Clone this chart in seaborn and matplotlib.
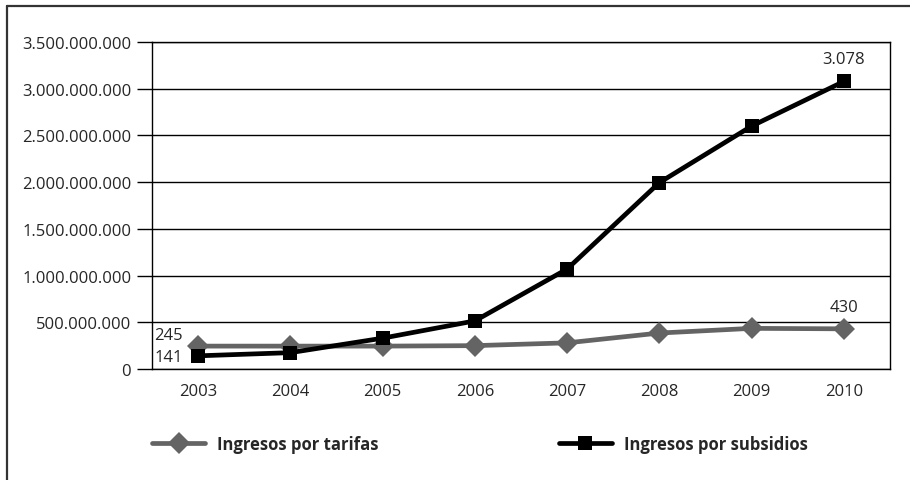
import seaborn as sns
import pandas as pd
import matplotlib.pyplot as plt
from matplotlib.lines import Line2D
from matplotlib.ticker import FuncFormatter, FixedLocator

anios = ['2003', '2004', '2005', '2006', '2007', '2008', '2009', '2010']
tarifas = [245e6, 245e6, 245e6, 250e6, 280e6, 385e6, 435e6, 430e6]
subsidios = [141e6, 175e6, 330e6, 515e6, 1070e6, 1995e6, 2600e6, 3078e6]
etiquetas = {'tarifas': ['245', '430'], 'subsidios': ['141', '3.078']}

sns.set_style('white')
plt.rcParams['font.family'] = ['Open Sans', 'DejaVu Sans']

df = pd.DataFrame({'anio': anios, 'tarifas': tarifas, 'subsidios': subsidios})

fig = plt.figure(figsize=(9.10, 4.81), dpi=100)
ax = fig.add_axes([152/910, 1-370/481, (890-152)/910, (370-43)/481])

sns.lineplot(data=df, x='anio', y='tarifas', ax=ax, color='#646464', lw=3.4,
             marker='D', markersize=11, markeredgewidth=0, label='Ingresos por tarifas')
sns.lineplot(data=df, x='anio', y='subsidios', ax=ax, color='black', lw=3.4,
             marker='s', markersize=10.5, markeredgewidth=0, label='Ingresos por subsidios')

fs = 12
ax.set_xlim(-0.5, len(anios) - 0.5)
ax.set_ylim(0, 3.5e9)
ax.set_yticks([i * 5e8 for i in range(8)])
ax.yaxis.set_major_formatter(FuncFormatter(lambda v, p: f'{int(v):,}'.replace(',', '.')))
ax.set_xticks(range(len(anios)))
ax.set_xticklabels(anios)
ax.xaxis.set_minor_locator(FixedLocator([i - 0.5 for i in range(len(anios) + 1)]))
ax.tick_params(axis='x', which='major', length=0, pad=10, labelsize=fs)
ax.tick_params(axis='x', which='minor', length=11, width=1, color='black', direction='out')
ax.tick_params(axis='y', length=11, width=1, color='black', direction='out', left=True, labelsize=fs, pad=4)
ax.grid(axis='y', color='black', lw=1)
ax.set_xlabel('')
ax.set_ylabel('')
for s in ax.spines.values():
    s.set_color('black')
    s.set_linewidth(1)

last = len(anios) - 1
ax.annotate(etiquetas['tarifas'][0], (0, tarifas[0]), xytext=(-11, 8), textcoords='offset points',
            ha='right', va='center', fontsize=fs)
ax.annotate(etiquetas['subsidios'][0], (0, subsidios[0]), xytext=(-11, -1), textcoords='offset points',
            ha='right', va='center', fontsize=fs)
ax.annotate(etiquetas['tarifas'][1], (last, tarifas[last]), xytext=(0, 16), textcoords='offset points',
            ha='center', va='center', fontsize=fs)
ax.annotate(etiquetas['subsidios'][1], (last, subsidios[last]), xytext=(0, 16), textcoords='offset points',
            ha='center', va='center', fontsize=fs)

ax.get_legend().remove()
h, l = ax.get_legend_handles_labels()
fig.legend(h, l, loc='center left', bbox_to_anchor=(152/910, 1-445/481), ncol=2,
           frameon=False, prop={'weight': 'bold', 'size': fs}, handlelength=3.2,
           handletextpad=0.7, columnspacing=10.8, borderpad=0, borderaxespad=0)

fig.add_artist(Line2D([7/910, 7/910], [0, 1-7/481], color='#333333', lw=1.6))
fig.add_artist(Line2D([7/910, 1], [1-7/481, 1-7/481], color='#333333', lw=1.6))

fig.savefig('out.png', dpi=100)
